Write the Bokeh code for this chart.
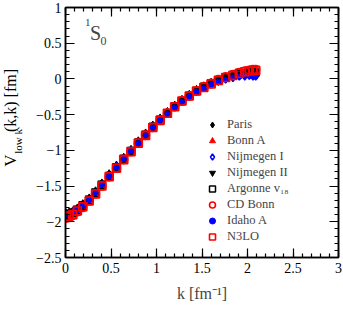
import math
from bokeh.plotting import figure
from bokeh.models import (LinearAxis, SingleIntervalTicker, Legend, LegendItem,
                          Label, Range1d)
from bokeh.layouts import row
from bokeh.core.properties import value
from bokeh.embed import file_html
from bokeh.resources import INLINE

# ---- data ----
k_mesh = [0.01, 0.04, 0.08, 0.13, 0.19, 0.26, 0.33, 0.40, 0.48, 0.56, 0.64,
          0.72, 0.80, 0.88, 0.96, 1.04, 1.12, 1.20, 1.28, 1.36, 1.44, 1.52,
          1.60, 1.68, 1.76, 1.84, 1.91, 1.97, 2.02, 2.06, 2.09]

paris = [-1.89, -1.88, -1.86, -1.82, -1.76, -1.68, -1.58, -1.47, -1.34, -1.22, -1.11,
         -1.00, -0.88, -0.77, -0.66, -0.56, -0.47, -0.38, -0.30, -0.23, -0.16, -0.11,
         -0.06, -0.02, 0.01, 0.04, 0.06, 0.07, 0.08, 0.08, 0.08]
bonn_a = [-1.93, -1.92, -1.89, -1.85, -1.79, -1.70, -1.60, -1.49, -1.36, -1.24, -1.12,
          -1.01, -0.89, -0.78, -0.67, -0.57, -0.48, -0.39, -0.31, -0.24, -0.17, -0.12,
          -0.07, -0.02, 0.02, 0.05, 0.08, 0.10, 0.11, 0.12, 0.12]
nijmegen_1 = [-1.90, -1.89, -1.87, -1.83, -1.77, -1.69, -1.59, -1.48, -1.35, -1.23, -1.12,
              -1.01, -0.89, -0.78, -0.67, -0.57, -0.48, -0.39, -0.31, -0.24, -0.17, -0.12,
              -0.07, -0.03, 0.00, 0.02, 0.04, 0.04, 0.05, 0.04, 0.04]
nijmegen_2 = [-1.88, -1.87, -1.85, -1.81, -1.75, -1.67, -1.57, -1.46, -1.34, -1.22, -1.10,
              -0.99, -0.88, -0.77, -0.66, -0.56, -0.47, -0.38, -0.30, -0.23, -0.16, -0.11,
              -0.06, -0.02, 0.01, 0.04, 0.06, 0.07, 0.08, 0.08, 0.08]
argonne_v18 = [-1.92, -1.91, -1.88, -1.84, -1.78, -1.70, -1.60, -1.49, -1.36, -1.24, -1.12,
               -1.01, -0.89, -0.78, -0.67, -0.57, -0.48, -0.39, -0.31, -0.24, -0.17, -0.11,
               -0.06, -0.02, 0.02, 0.05, 0.07, 0.08, 0.09, 0.09, 0.09]
cd_bonn = [-1.95, -1.94, -1.91, -1.86, -1.80, -1.71, -1.61, -1.50, -1.37, -1.25, -1.13,
           -1.02, -0.90, -0.79, -0.68, -0.58, -0.48, -0.39, -0.31, -0.24, -0.17, -0.11,
           -0.06, -0.01, 0.03, 0.06, 0.09, 0.11, 0.12, 0.13, 0.13]
idaho_a = [-1.89, -1.88, -1.86, -1.82, -1.77, -1.69, -1.59, -1.48, -1.36, -1.24, -1.12,
           -1.01, -0.90, -0.79, -0.68, -0.58, -0.49, -0.40, -0.32, -0.25, -0.18, -0.13,
           -0.08, -0.04, -0.01, 0.02, 0.03, 0.04, 0.04, 0.04, 0.03]
n3lo = [-1.93, -1.92, -1.90, -1.85, -1.79, -1.71, -1.61, -1.50, -1.37, -1.25, -1.13,
        -1.02, -0.90, -0.79, -0.68, -0.58, -0.48, -0.39, -0.31, -0.24, -0.17, -0.12,
        -0.07, -0.02, 0.02, 0.05, 0.08, 0.10, 0.11, 0.12, 0.12]

series_names = ["Paris", "Bonn A", "Nijmegen I", "Nijmegen II",
                "Argonne v\u2081\u2088", "CD Bonn", "Idaho A", "N3LO"]

FONT = "Liberation Serif"
RED = "#ff0000"
BLUE = "#0000ff"

p = figure(x_range=Range1d(0, 3), y_range=Range1d(-2.5, 1),
           width=317, height=311,
           frame_width=273, frame_height=250,
           min_border_left=39, min_border_right=5, min_border_top=7, min_border_bottom=54,
           output_backend="svg", toolbar_location=None)
p.xgrid.visible = False
p.ygrid.visible = False
p.outline_line_color = "black"
p.outline_line_width = 1.5
p.background_fill_color = "white"
p.border_fill_color = "white"


def style_axis(ax, show_labels):
    ax.ticker = SingleIntervalTicker(interval=0.5, num_minor_ticks=5)
    ax.axis_line_color = "black"
    ax.axis_line_width = 1.5
    ax.major_tick_in = 9
    ax.major_tick_out = 0
    ax.minor_tick_in = 4
    ax.minor_tick_out = 0
    ax.major_tick_line_width = 1.2
    ax.minor_tick_line_width = 1.2
    ax.major_tick_line_color = "black"
    ax.minor_tick_line_color = "black"
    if show_labels:
        ax.major_label_text_font = FONT
        ax.major_label_text_font_size = "14px"
        ax.major_label_text_color = "black"
        ax.major_label_standoff = 4
    else:
        ax.major_label_text_font_size = "0px"
        ax.major_label_text_color = None
        ax.major_label_standoff = 0


style_axis(p.xaxis[0], True)
style_axis(p.yaxis[0], True)
p.xaxis[0].major_label_standoff = 5
p.xaxis[0].axis_label = "k [fm\u207b\u00b9]"
p.xaxis[0].axis_label_text_font = FONT
p.xaxis[0].axis_label_text_font_size = "16px"
p.xaxis[0].axis_label_text_font_style = "normal"
p.xaxis[0].axis_label_standoff = 9

right = LinearAxis()
style_axis(right, False)
p.add_layout(right, "right")
top = LinearAxis()
style_axis(top, False)
p.add_layout(top, "above")

# ---- markers ----
r_paris = p.scatter(k_mesh, paris, marker="diamond", size=10, color="black")
r_bonn = p.scatter(k_mesh, bonn_a, marker="triangle", size=8, color=RED)
r_nij1 = p.scatter(k_mesh, nijmegen_1, marker="diamond", size=8, fill_color=None,
                   line_color=BLUE, line_width=1.5)
r_nij2 = p.scatter(k_mesh, nijmegen_2, marker="inverted_triangle", size=8, color="black")
r_arg = p.scatter(k_mesh, argonne_v18, marker="square", size=7, fill_color=None,
                  line_color="black", line_width=1.5)
r_cdb = p.scatter(k_mesh, cd_bonn, marker="circle", size=8, fill_color=None,
                  line_color=RED, line_width=1.6)
r_ida = p.scatter(k_mesh, idaho_a, marker="circle", size=5, color=BLUE)
r_n3 = p.scatter(k_mesh, n3lo, marker="square", size=8, fill_color=None,
                 line_color=RED, line_width=1.6)

renderers = [r_paris, r_bonn, r_nij1, r_nij2, r_arg, r_cdb, r_ida, r_n3]
legend = Legend(items=[LegendItem(label=n, renderers=[r]) for n, r in zip(series_names, renderers)],
                location=(137, 13), orientation="vertical",
                label_text_font=FONT, label_text_font_size="12.5px",
                glyph_width=20, glyph_height=15, label_height=15, spacing=1,
                label_standoff=5, padding=0, margin=0,
                border_line_color=None, background_fill_alpha=0)
p.add_layout(legend, "center")

# ---- 1S0 annotation ----
p.add_layout(Label(x=0.27, y=0.645, text="S", text_font=FONT, text_font_size="20px",
                   text_align="left", text_baseline="alphabetic"))
p.add_layout(Label(x=0.215, y=0.795, text="1", text_font=FONT, text_font_size="11px",
                   text_align="left", text_baseline="alphabetic"))
p.add_layout(Label(x=0.385, y=0.525, text="0", text_font=FONT, text_font_size="12px",
                   text_align="left", text_baseline="alphabetic"))

# ---- rotated y-axis title in its own narrow strip: V_{low k}(k,k) [fm] ----
ylab = figure(width=26, height=311, x_range=Range1d(0, 26), y_range=Range1d(0, 311),
              min_border=0, output_backend="svg", toolbar_location=None)
ylab.axis.visible = False
ylab.xgrid.visible = False
ylab.ygrid.visible = False
ylab.outline_line_color = None
ylab.border_fill_color = "white"
ang = math.pi / 2
ylab.text(x=[10], y=[113], text=["V"], angle=ang, text_font=value(FONT),
          text_font_size="17px", text_align="left", text_baseline="middle", text_color="black")
ylab.text(x=[17.5], y=[129], text=["low k"], angle=ang, text_font=value(FONT),
          text_font_size="11px", text_align="left", text_baseline="middle", text_color="black")
ylab.text(x=[9.5], y=[156], text=["(k,k) [fm]"], angle=ang, text_font=value(FONT),
          text_font_size="16px", text_align="left", text_baseline="middle", text_color="black")

layout = row(ylab, p, spacing=0)
open("out.html", "w").write(file_html(layout, INLINE))
